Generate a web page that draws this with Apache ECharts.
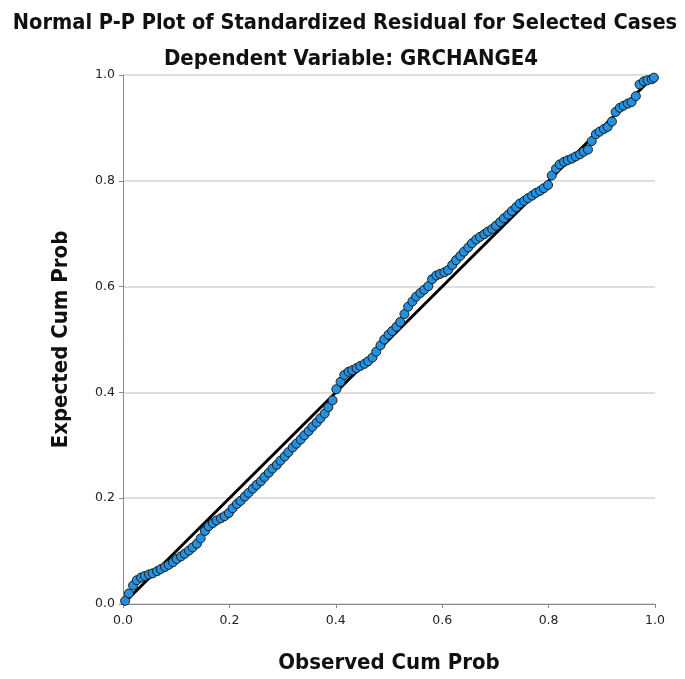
<!DOCTYPE html>
<html>
<head>
<meta charset="utf-8">
<script src="https://cdn.jsdelivr.net/npm/echarts@6/dist/echarts.min.js"></script>
<style>
html,body{margin:0;padding:0;background:#fff;}
#chart{width:685px;height:679px;}
</style>
</head>
<body>
<div id="chart"></div>
<script>
var titleText = "Normal P-P Plot of Standardized Residual for Selected Cases";
var subtitleText = "Dependent Variable: GRCHANGE4";
var xAxisName = "Observed Cum Prob";
var yAxisName = "Expected Cum Prob";
var tickLabels = ["0.0", "0.2", "0.4", "0.6", "0.8", "1.0"];

var observed = [0.004,0.011,0.019,0.026,0.034,0.041,0.049,0.056,0.064,0.071,0.079,0.086,0.094,0.101,0.109,0.116,0.124,0.131,0.139,0.146,0.154,0.161,0.169,0.176,0.184,0.191,0.199,0.206,0.214,0.221,0.229,0.236,0.244,0.251,0.259,0.266,0.274,0.281,0.289,0.296,0.304,0.311,0.319,0.326,0.334,0.341,0.349,0.356,0.364,0.371,0.379,0.386,0.394,0.401,0.409,0.416,0.424,0.431,0.439,0.446,0.454,0.461,0.469,0.476,0.484,0.491,0.499,0.506,0.514,0.521,0.529,0.536,0.544,0.551,0.559,0.566,0.574,0.581,0.589,0.596,0.604,0.611,0.619,0.626,0.634,0.641,0.649,0.656,0.664,0.671,0.679,0.686,0.694,0.701,0.709,0.716,0.724,0.731,0.739,0.746,0.754,0.761,0.769,0.776,0.784,0.791,0.799,0.806,0.814,0.821,0.829,0.836,0.844,0.851,0.859,0.866,0.874,0.881,0.889,0.896,0.904,0.911,0.919,0.926,0.934,0.941,0.949,0.956,0.964,0.971,0.979,0.986,0.994,0.998];
var expected = [0.006,0.020,0.035,0.045,0.050,0.053,0.056,0.058,0.062,0.066,0.070,0.074,0.079,0.085,0.090,0.095,0.101,0.107,0.114,0.124,0.138,0.147,0.153,0.158,0.162,0.166,0.172,0.181,0.189,0.195,0.203,0.210,0.218,0.225,0.232,0.240,0.248,0.256,0.263,0.271,0.279,0.287,0.296,0.303,0.311,0.319,0.327,0.335,0.343,0.351,0.360,0.372,0.385,0.406,0.420,0.433,0.439,0.442,0.446,0.450,0.454,0.459,0.466,0.477,0.489,0.500,0.509,0.516,0.524,0.533,0.548,0.562,0.572,0.581,0.588,0.594,0.601,0.614,0.621,0.624,0.627,0.631,0.641,0.650,0.658,0.666,0.674,0.682,0.689,0.694,0.699,0.704,0.709,0.715,0.722,0.729,0.736,0.743,0.750,0.757,0.762,0.767,0.772,0.777,0.781,0.786,0.792,0.810,0.823,0.831,0.836,0.839,0.842,0.846,0.850,0.855,0.859,0.875,0.888,0.893,0.898,0.902,0.912,0.930,0.938,0.942,0.946,0.949,0.960,0.982,0.988,0.990,0.992,0.995];
var refLine = [[0, 0], [1, 1]];

var points = observed.map(function (v, i) { return [v, expected[i]]; });

var chart = echarts.init(document.getElementById('chart'));
var titleFam = '"DejaVu Sans Condensed", "DejaVu Sans", sans-serif';
var labelFam = '"DejaVu Sans", "Liberation Sans", sans-serif';
chart.setOption({
  animation: false,
  title: [
    { text: titleText, left: 340, textAlign: 'center', top: 7, textStyle: { fontFamily: titleFam, fontSize: 21.6, fontWeight: 'bold', color: '#111' } },
    { text: subtitleText, left: 346, textAlign: 'center', top: 43, textStyle: { fontFamily: titleFam, fontSize: 22, fontWeight: 'bold', color: '#111' } }
  ],
  grid: { left: 123, right: 30, top: 75, bottom: 72 },
  xAxis: {
    type: 'value', min: 0, max: 1, interval: 0.2,
    name: xAxisName, nameLocation: 'middle', nameGap: 48,
    nameTextStyle: { fontFamily: titleFam, fontSize: 22, fontWeight: 'bold', color: '#111' },
    axisLine: { show: true, lineStyle: { color: '#888', width: 1 } },
    axisTick: { show: true, length: 4, lineStyle: { color: '#888' } },
    axisLabel: { fontFamily: labelFam, fontSize: 12.5, color: '#222', margin: 10, formatter: function (v) { return tickLabels[Math.round(v * 5)]; } },
    splitLine: { show: false }
  },
  yAxis: {
    type: 'value', min: 0, max: 1, interval: 0.2,
    name: yAxisName, nameLocation: 'middle', nameGap: 51,
    nameTextStyle: { fontFamily: titleFam, fontSize: 22, fontWeight: 'bold', color: '#111' },
    axisLine: { show: true, lineStyle: { color: '#888', width: 1 } },
    axisTick: { show: true, length: 4, lineStyle: { color: '#888' } },
    axisLabel: { fontFamily: labelFam, fontSize: 12.5, color: '#222', margin: 8, formatter: function (v) { return tickLabels[Math.round(v * 5)]; } },
    splitLine: { show: true, lineStyle: { color: '#d4d4d4', width: 1.5 } }
  },
  series: [
    {
      type: 'line', data: refLine, symbol: 'none', z: 2,
      lineStyle: { color: '#000', width: 3 }
    },
    {
      type: 'scatter', data: points, symbolSize: 9, z: 3,
      itemStyle: { color: '#2390e0', borderColor: '#1a1a1a', borderWidth: 1, opacity: 1 }
    }
  ]
});
</script>
</body>
</html>
